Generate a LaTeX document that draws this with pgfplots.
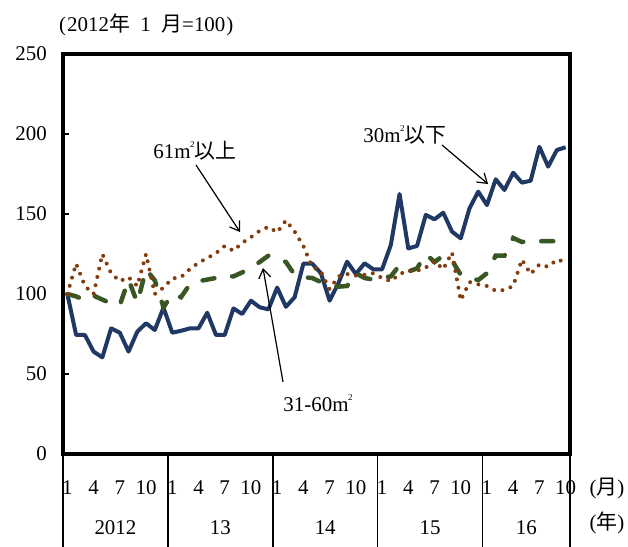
\documentclass[border=0pt]{standalone}
\usepackage{fontspec}
\setmainfont{Liberation Serif}
\newfontfamily\jp{Noto Sans CJK JP}
\usepackage{pgfplots}
\pgfplotsset{compat=1.18}
\usepackage{pgfplotstable}
\usetikzlibrary{arrows.meta}

\newcommand{\chartfont}{\fontsize{21}{25}\selectfont}
\newcommand{\sqm}{m\kern-0.5pt\raisebox{0.55em}{\fontsize{9}{9}\selectfont 2}}

\definecolor{navyline}{RGB}{31,56,100}
\definecolor{greenline}{RGB}{56,87,35}
\definecolor{brownline}{RGB}{132,60,12}

% monthly index, Jan 2012 = 100; m = months since Jan 2012
\pgfplotstableread{
m   a30    a31    a61
0   100    100    100
1   74.4   98.5   119
2   74.4   96     105
3   64     99     100
4   60.4   96.5   125
5   78.5   94     113
6   75.8   93     108
7   64     109    110.5
8   76.5   94.5   105
9   81.7   115.5  125
10  77.5   108.5  100
11  91.5   91.7   104
12  75.8   100    109.7
13  77     98     110.5
14  78.5   106    115.5
15  78.5   108    119.5
16  88.3   109    122.5
17  74.4   110    125.5
18  74.4   111.5  130
19  91     111    127
20  87.5   113.5  132
21  95.8   116.5  135.5
22  91.7   120    139.5
23  90.4   124    142
24  104    122    138.5
25  92     120    146
26  98     112    139
27  119    110.5  130
28  119    110    117
29  113    107.5  114
30  95.8   105.5  103
31  106.7  104.6  111
32  120.2  105    112.5
33  112.5  113    111.5
34  119.2  110    112
35  115.4  109    113
36  115.4  110    110
37  130.6  111    108
38  162.5  118    112.5
39  128.5  114    114.5
40  130    116    114.5
41  149.4  125    116.5
42  146.7  120    120.5
43  150.8  124    115.5
44  139    121    126
45  134.8  112    96
46  153.5  110    107.5
47  164    108.7  106
48  155.6  113    105
49  171.7  124    102
50  165    124    102.5
51  175.8  135    105
52  169.6  132.5  121.5
53  170.8  133    112.5
54  192    133    118.5
55  179.6  133    117
56  190    133    121.5
57  191.7  133    120
}\prices

\begin{document}
\begin{tikzpicture}
\useasboundingbox (-63bp,-93bp) rectangle (565bp,454bp);
\begin{axis}[
  at={(0,0)}, anchor=south west,
  scale only axis, width=507bp, height=400bp,
  xmin=-0.5, xmax=57.5, ymin=0, ymax=250,
  clip=false,
  axis line style={line width=3.5bp, black},
  tick pos=left,
  tick align=inside,
  major tick length=6bp,
  ytick={0,50,...,250},
  ytick style={line width=1.2bp, black},
  xtick={0,3,...,57},
  xticklabels={1,4,7,10,1,4,7,10,1,4,7,10,1,4,7,10,1,4,7,10},
  xtick style={draw=none},
  xticklabel style={anchor=base, inner sep=0pt, yshift=-40bp},
  yticklabel style={anchor=east, inner sep=0pt, xshift=-16bp},
  tick label style={font=\chartfont},
  /pgf/number format/assume math mode=true,
]
\addplot[navyline, line width=4bp, line join=round] table[x=m, y=a30]{\prices};
\addplot[greenline, line width=4.5bp, line cap=round, dash pattern=on 12bp off 18bp] table[x=m, y=a31]{\prices};
\addplot[brownline, line width=4bp, line cap=round, dash pattern=on 0bp off 8.5bp] table[x=m, y=a61]{\prices};

% year separators below the axis
\pgfplotsinvokeforeach{-0.5,11.5,23.5,35.5,47.5,57.5}{
  \draw[line width=1.6bp, black] (axis cs:#1,0) -- ++(0bp,-93bp);
}
\node[anchor=base, font=\chartfont, yshift=-80bp] at (axis cs:5.5,0) {2012};
\node[anchor=base, font=\chartfont, yshift=-80bp] at (axis cs:17.5,0) {13};
\node[anchor=base, font=\chartfont, yshift=-80bp] at (axis cs:29.5,0) {14};
\node[anchor=base, font=\chartfont, yshift=-80bp] at (axis cs:41.5,0) {15};
\node[anchor=base, font=\chartfont, yshift=-80bp] at (axis cs:52.5,0) {16};
\node[anchor=base, font=\chartfont, yshift=-40bp, xshift=37bp] at (axis cs:57.5,0) {({\jp 月})};
\node[anchor=base, font=\chartfont, yshift=-75bp, xshift=37bp] at (axis cs:57.5,0) {({\jp 年})};
\end{axis}

% unit note above the plot
\node[anchor=base west, font=\chartfont, inner sep=0pt] at (-4bp,422bp) {(\kern1pt2012{\jp 年}\enspace1\enspace{\jp 月}=100\kern1pt)};

% series annotations
\node[font=\chartfont, inner sep=0pt] at (132bp,303bp) {61\sqm{\jp 以上}};
\draw[line width=1.2bp, -{Straight Barb[length=9bp, width=12bp]}] (133bp,289bp) -- (177bp,222bp);

\node[font=\chartfont, inner sep=0pt] at (342bp,319bp) {30\sqm{\jp 以下}};
\draw[line width=1.2bp, -{Straight Barb[length=9bp, width=12bp]}] (379bp,309bp) -- (425bp,270bp);

\node[font=\chartfont, inner sep=0pt] at (255bp,51bp) {31-60\sqm};
\draw[line width=1.2bp, -{Straight Barb[length=9bp, width=12bp]}] (220bp,72bp) -- (200bp,186bp);
\end{tikzpicture}
\end{document}
